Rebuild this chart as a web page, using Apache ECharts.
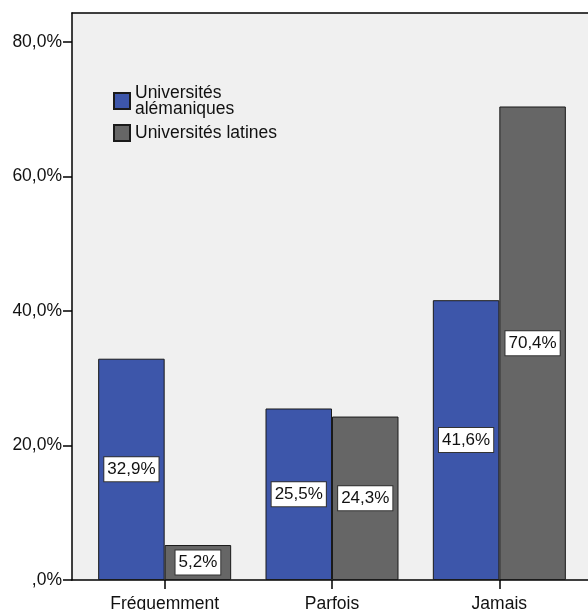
<!DOCTYPE html>
<html>
<head>
<meta charset="utf-8">
<script src="https://cdn.jsdelivr.net/npm/echarts@6/dist/echarts.min.js"></script>
<style>
  html, body { margin: 0; padding: 0; background: #ffffff; }
  #chart { width: 588px; height: 610px; }
</style>
</head>
<body>
<div id="chart"></div>
<script>
// Fréquence d'utilisation par type d'université
const categories = ['Fréquemment', 'Parfois', 'Jamais'];
const seriesNames = ['Universités alémaniques', 'Universités latines'];
const alemaniques = [32.9, 25.5, 41.6];
const latines = [5.2, 24.3, 70.4];
const yTickValues = [0, 20, 40, 60, 80];
const yTickLabels = [',0%', '20,0%', '40,0%', '60,0%', '80,0%'];

const FONT = "'Liberation Sans', Arial, Helvetica, sans-serif";
const Y_MAX = 84.3;

const pct = v => v.toFixed(1).replace('.', ',') + '%';

const barLabel = {
  show: true,
  position: 'inside',
  formatter: p => pct(p.value),
  color: '#111',
  fontFamily: FONT,
  fontSize: 17,
  backgroundColor: '#ffffff',
  borderColor: '#333333',
  borderWidth: 1,
  padding: [4, 3, 3, 3]
};

const chart = echarts.init(document.getElementById('chart'), null, { renderer: 'canvas' });

chart.setOption({
  animation: false,
  textStyle: { fontFamily: FONT },
  grid: [
    { left: 72, right: 0, top: 13, bottom: 30, show: true, backgroundColor: '#f0f0f0', borderWidth: 0,
      containLabel: false, outerBoundsMode: 'none' },
    { left: 81, right: 5, top: 13, bottom: 30, containLabel: false, outerBoundsMode: 'none' }
  ],
  legend: {
    orient: 'vertical',
    left: 113,
    top: 84,
    padding: 0,
    itemWidth: 16,
    itemHeight: 16,
    itemGap: 6,
    icon: 'rect',
    data: seriesNames,
    formatter: n => n === seriesNames[0] ? 'Universités\nalémaniques' : n,
    textStyle: { fontFamily: FONT, fontSize: 17.5, color: '#111', lineHeight: 16 }
  },
  xAxis: [
    { gridIndex: 0, type: 'value', position: 'top', min: 0, max: 1,
      axisLine: { show: true, onZero: false, lineStyle: { color: '#000', width: 1.5 } },
      axisTick: { show: false }, axisLabel: { show: false }, splitLine: { show: false } },
    { gridIndex: 0, type: 'value', position: 'bottom', min: 0, max: 1,
      axisLine: { show: true, onZero: false, lineStyle: { color: '#000', width: 1.5 } },
      axisTick: { show: false }, axisLabel: { show: false }, splitLine: { show: false } },
    { gridIndex: 1, type: 'category', data: categories, position: 'bottom',
      axisLine: { show: false },
      axisTick: { show: true, alignWithLabel: true, length: 9, lineStyle: { color: '#000', width: 1.5 } },
      axisLabel: { color: '#111', fontFamily: FONT, fontSize: 17.5, margin: 15 } }
  ],
  yAxis: [
    { gridIndex: 0, type: 'value', min: 0, max: Y_MAX,
      axisLine: { show: true, lineStyle: { color: '#000', width: 1.5 } },
      axisTick: { show: true, length: 9, customValues: yTickValues, lineStyle: { color: '#000', width: 1.5 } },
      axisLabel: {
        customValues: yTickValues,
        formatter: v => yTickLabels[yTickValues.indexOf(Math.round(v))] || '',
        color: '#111', fontFamily: FONT, fontSize: 17.5, margin: 10
      },
      splitLine: { show: false } },
    { gridIndex: 1, type: 'value', min: 0, max: Y_MAX, show: false, splitLine: { show: false } }
  ],
  series: [
    { name: seriesNames[0], type: 'bar', xAxisIndex: 2, yAxisIndex: 1, data: alemaniques,
      barWidth: 66.5, barGap: '0%',
      itemStyle: { color: '#3d56aa', borderColor: '#1a1a1a', borderWidth: 1 },
      label: barLabel },
    { name: seriesNames[1], type: 'bar', xAxisIndex: 2, yAxisIndex: 1, data: latines,
      barWidth: 66.5, barGap: '0%',
      itemStyle: { color: '#666666', borderColor: '#1a1a1a', borderWidth: 1 },
      label: barLabel }
  ]
});
</script>
</body>
</html>
